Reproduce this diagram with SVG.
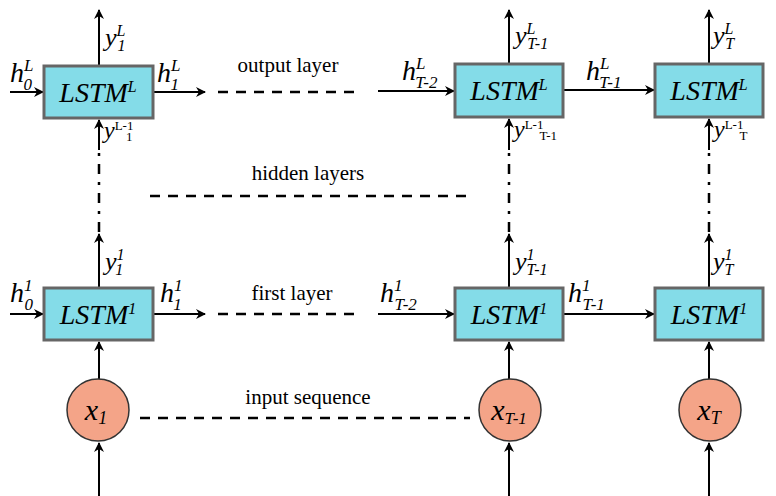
<svg xmlns="http://www.w3.org/2000/svg" width="776" height="496" viewBox="0 0 776 496" font-family="Liberation Serif, DejaVu Serif, serif">
<style>
.box{fill:#84DCE8;stroke:#666;stroke-width:3}
.cir{fill:#F4A488;stroke:#333;stroke-width:1.5}
.ln{stroke:#000;stroke-width:2;fill:none}
.dash{stroke:#000;stroke-width:2.5;fill:none;stroke-dasharray:10 8}
.dd{stroke:#000;stroke-width:2.5;fill:none;stroke-dasharray:10 8 3 8}
.it{font-style:italic}
</style>
<defs><marker id="a" markerWidth="10" markerHeight="10" refX="9" refY="5" orient="auto" markerUnits="userSpaceOnUse"><path d="M0,0 L10,5 L0,10 L3,5 Z" fill="#000"/></marker></defs>
<rect width="776" height="496" fill="#fff"/>
<g id="connectors">
<line class="ln" x1="10" y1="92" x2="43" y2="92" marker-end="url(#a)"/>
<line class="ln" x1="153" y1="92" x2="205" y2="92" marker-end="url(#a)"/>
<line class="dash" x1="218" y1="92" x2="362" y2="92"/>
<line class="ln" x1="378" y1="91" x2="454" y2="91" marker-end="url(#a)"/>
<line class="ln" x1="563" y1="90" x2="654" y2="90" marker-end="url(#a)"/>
<line class="ln" x1="10" y1="314" x2="43" y2="314" marker-end="url(#a)"/>
<line class="ln" x1="153" y1="314" x2="205" y2="314" marker-end="url(#a)"/>
<line class="dash" x1="218" y1="314" x2="362" y2="314"/>
<line class="ln" x1="378" y1="314" x2="454" y2="314" marker-end="url(#a)"/>
<line class="ln" x1="563" y1="314" x2="654" y2="314" marker-end="url(#a)"/>
<line class="dash" x1="150" y1="196" x2="470" y2="196"/>
<line class="dash" x1="140" y1="418" x2="470" y2="418"/>
<line class="ln" x1="99" y1="66" x2="99" y2="10" marker-end="url(#a)"/>
<line class="ln" x1="509" y1="64" x2="509" y2="10" marker-end="url(#a)"/>
<line class="ln" x1="709" y1="64" x2="709" y2="10" marker-end="url(#a)"/>
<line class="ln" x1="99" y1="150" x2="99" y2="120" marker-end="url(#a)"/>
<line class="ln" x1="509" y1="150" x2="509" y2="119" marker-end="url(#a)"/>
<line class="ln" x1="709" y1="150" x2="709" y2="119" marker-end="url(#a)"/>
<line class="dd" x1="99" y1="232" x2="99" y2="152"/>
<line class="dd" x1="509" y1="232" x2="509" y2="152"/>
<line class="dd" x1="709" y1="232" x2="709" y2="152"/>
<line class="ln" x1="99" y1="288" x2="99" y2="234" marker-end="url(#a)"/>
<line class="ln" x1="509" y1="288" x2="509" y2="234" marker-end="url(#a)"/>
<line class="ln" x1="709" y1="288" x2="709" y2="234" marker-end="url(#a)"/>
<line class="ln" x1="99" y1="379" x2="99" y2="342" marker-end="url(#a)"/>
<line class="ln" x1="509" y1="379" x2="509" y2="342" marker-end="url(#a)"/>
<line class="ln" x1="709" y1="379" x2="709" y2="342" marker-end="url(#a)"/>
<line class="ln" x1="99" y1="496" x2="99" y2="443" marker-end="url(#a)"/>
<line class="ln" x1="509" y1="496" x2="509" y2="443" marker-end="url(#a)"/>
<line class="ln" x1="709" y1="496" x2="709" y2="443" marker-end="url(#a)"/>
</g>
<g id="lstmL1"><rect class="box" x="44" y="66" width="109" height="52"/><text class="it" x="98" y="102" font-size="28" text-anchor="middle">LSTM<tspan font-size="16" dy="-10">L</tspan></text></g>
<g id="lstmL2"><rect class="box" x="455" y="64" width="108" height="53"/><text class="it" x="509" y="100" font-size="28" text-anchor="middle">LSTM<tspan font-size="16" dy="-10">L</tspan></text></g>
<g id="lstmL3"><rect class="box" x="655" y="64" width="108" height="53"/><text class="it" x="709" y="100" font-size="28" text-anchor="middle">LSTM<tspan font-size="16" dy="-10">L</tspan></text></g>
<g id="lstm11"><rect class="box" x="44" y="288" width="109" height="52"/><text class="it" x="98" y="324" font-size="28" text-anchor="middle">LSTM<tspan font-size="16" dy="-10">1</tspan></text></g>
<g id="lstm12"><rect class="box" x="455" y="288" width="108" height="52"/><text class="it" x="509" y="324" font-size="28" text-anchor="middle">LSTM<tspan font-size="16" dy="-10">1</tspan></text></g>
<g id="lstm13"><rect class="box" x="655" y="288" width="108" height="52"/><text class="it" x="709" y="324" font-size="28" text-anchor="middle">LSTM<tspan font-size="16" dy="-10">1</tspan></text></g>
<g id="x1"><circle class="cir" cx="98" cy="410" r="31"/><text class="it" x="96" y="420" font-size="30" text-anchor="middle">x<tspan font-size="18" dy="4">1</tspan></text></g>
<g id="xT1"><circle class="cir" cx="510" cy="410" r="31"/><text class="it" x="509" y="420" font-size="30" text-anchor="middle">x<tspan font-size="17" dy="4">T-1</tspan></text></g>
<g id="xT"><circle class="cir" cx="710" cy="410" r="31"/><text class="it" x="709" y="420" font-size="30" text-anchor="middle">x<tspan font-size="18" dy="4">T</tspan></text></g>
<g id="labels">
<text class="it" x="10" y="82" font-size="28">h<tspan font-size="17" dy="-11">L</tspan><tspan font-size="17" dx="-10" dy="19">0</tspan></text>
<text class="it" x="157" y="82" font-size="28">h<tspan font-size="17" dy="-11">L</tspan><tspan font-size="17" dx="-10" dy="19">1</tspan></text>
<text class="it" x="402" y="80" font-size="28">h<tspan font-size="17" dy="-11">L</tspan><tspan font-size="17" dx="-10" dy="19">T-2</tspan></text>
<text class="it" x="586" y="80" font-size="28">h<tspan font-size="17" dy="-11">L</tspan><tspan font-size="17" dx="-10" dy="19">T-1</tspan></text>
<text class="it" x="105" y="46" font-size="26">y<tspan font-size="16" dy="-10">L</tspan><tspan font-size="16" dx="-8" dy="15">1</tspan></text>
<text class="it" x="515" y="44" font-size="26">y<tspan font-size="16" dy="-10">L</tspan><tspan font-size="16" dx="-8" dy="15">T-1</tspan></text>
<text class="it" x="713" y="44" font-size="26">y<tspan font-size="16" dy="-10">L</tspan><tspan font-size="16" dx="-8" dy="15">T</tspan></text>
<text class="it" x="104" y="138" font-size="24">y<tspan font-size="13" font-style="normal" dy="-8">L-1</tspan><tspan font-size="13" font-style="normal" dx="-7" dy="11">1</tspan></text>
<text class="it" x="514" y="137" font-size="24">y<tspan font-size="13" font-style="normal" dy="-8">L-1</tspan><tspan font-size="13" font-style="normal" dx="-4" dy="11">T-1</tspan></text>
<text class="it" x="714" y="137" font-size="24">y<tspan font-size="13" font-style="normal" dy="-8">L-1</tspan><tspan font-size="13" font-style="normal" dx="-4" dy="11">T</tspan></text>
<text class="it" x="10" y="302" font-size="28">h<tspan font-size="17" dy="-11">1</tspan><tspan font-size="17" dx="-8" dy="19">0</tspan></text>
<text class="it" x="160" y="302" font-size="28">h<tspan font-size="17" dy="-11">1</tspan><tspan font-size="17" dx="-8" dy="19">1</tspan></text>
<text class="it" x="380" y="302" font-size="28">h<tspan font-size="17" dy="-11">1</tspan><tspan font-size="17" dx="-8" dy="19">T-2</tspan></text>
<text class="it" x="568" y="302" font-size="28">h<tspan font-size="17" dy="-11">1</tspan><tspan font-size="17" dx="-8" dy="19">T-1</tspan></text>
<text class="it" x="105" y="270" font-size="26">y<tspan font-size="16" dy="-10">1</tspan><tspan font-size="16" dx="-8" dy="15">1</tspan></text>
<text class="it" x="515" y="270" font-size="26">y<tspan font-size="16" dy="-10">1</tspan><tspan font-size="16" dx="-8" dy="15">T-1</tspan></text>
<text class="it" x="713" y="270" font-size="26">y<tspan font-size="16" dy="-10">1</tspan><tspan font-size="16" dx="-8" dy="15">T</tspan></text>
</g>
<g id="layer-text" font-size="21">
<text x="288" y="72" text-anchor="middle">output layer</text>
<text x="308" y="180" text-anchor="middle">hidden layers</text>
<text x="292" y="300" text-anchor="middle">first layer</text>
<text x="308" y="404" text-anchor="middle">input sequence</text>
</g>
</svg>
